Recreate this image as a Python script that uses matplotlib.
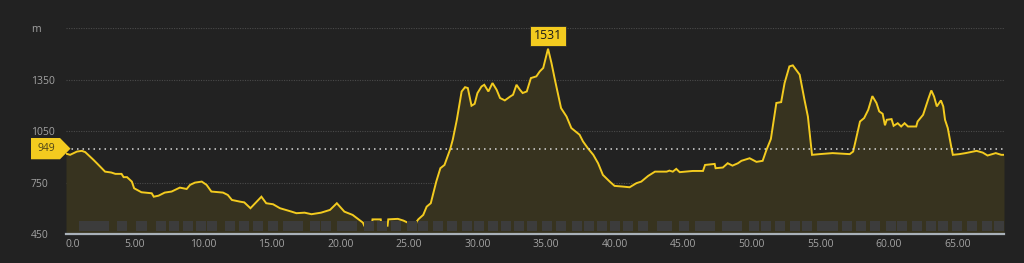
import matplotlib
matplotlib.use("Agg")
import matplotlib.pyplot as plt
from matplotlib.patches import Polygon, Rectangle
import numpy as np

plt.rcParams['font.family'] = ['Open Sans', 'DejaVu Sans']

# ---- data ----
dist_km = [0.0, 0.3, 0.8, 1.15, 1.4, 1.75, 2.0, 2.25, 2.6, 2.85, 3.3, 3.6, 4.05, 4.2, 4.45, 4.8, 4.97,
           5.5, 6.25, 6.4, 6.75, 7.2, 7.7, 8.3, 8.8, 9.05, 9.4, 9.9, 10.25, 10.6, 11.45, 11.8, 12.1,
           12.7, 13.0, 13.45, 14.25, 14.6, 15.1, 15.6, 16.45, 16.8, 17.4, 17.9, 18.6, 19.25, 19.75,
           20.3, 20.9, 21.65, 21.75, 22.3, 22.35, 22.95, 23.0, 23.45, 23.5, 24.2, 24.6, 25.0, 25.45,
           25.56, 25.7, 26.05, 26.3, 26.6, 27.0, 27.3, 27.6, 28.0, 28.2, 28.5, 28.85, 29.1, 29.3,
           29.57, 29.8, 30.0, 30.3, 30.5, 30.8, 31.1, 31.4, 31.65, 32.0, 32.4, 32.6, 32.85, 33.1,
           33.3, 33.6, 33.9, 34.3, 34.55, 34.8, 35.15, 35.4, 35.65, 36.1, 36.5, 36.85, 37.45, 37.7,
           38.05, 38.45, 38.8, 39.15, 39.65, 40.0, 40.6, 41.1, 41.6, 41.95, 42.45, 42.95, 43.8, 44.0,
           44.25, 44.5, 44.75, 45.7, 46.45, 46.6, 47.3, 47.37, 47.9, 48.25, 48.6, 49.0, 49.25, 49.85,
           50.35, 50.8, 51.07, 51.4, 51.8, 52.15, 52.4, 52.75, 53.0, 53.5, 53.85, 54.1, 54.4, 54.95,
           55.9, 57.15, 57.4, 57.9, 58.2, 58.5, 58.8, 59.1, 59.3, 59.55, 59.72, 59.85, 60.2, 60.35,
           60.65, 60.9, 61.15, 61.4, 62.0, 62.1, 62.5, 62.7, 62.9, 63.1, 63.3, 63.5, 63.8, 63.97,
           64.1, 64.3, 64.55, 64.67, 65.15, 65.6, 66.4, 66.85, 67.2, 67.8, 68.2, 68.4]
elev_m = [920, 913, 932, 936, 929, 903, 884, 864, 835, 815, 810, 802, 802, 783, 783, 757, 718,
          695, 689, 669, 675, 693, 699, 722, 714, 738, 751, 757, 738, 699, 693, 679, 650,
          640, 636, 602, 669, 631, 625, 602, 582, 573, 576, 567, 576, 592, 631,
          582, 563, 518, 500, 500, 537, 537, 500, 500, 537, 540, 530, 515, 487,
          523, 538, 563, 611, 631, 757, 835, 854, 942, 1000, 1117, 1282, 1307, 1302,
          1199, 1210, 1272, 1311, 1321, 1282, 1331, 1292, 1244, 1230, 1253, 1263, 1321, 1292,
          1273, 1282, 1360, 1370, 1399, 1419, 1531, 1448, 1351, 1185, 1136, 1069, 1030, 991,
          952, 913, 864, 796, 757, 732, 728, 724, 748, 757, 790, 815, 815, 821,
          815, 831, 812, 819, 819, 854, 860, 835, 839, 864, 850, 864, 878, 893,
          872, 878, 940, 1005, 1215, 1220, 1331, 1428, 1434, 1380, 1234, 1136, 913, 917,
          923, 917, 932, 1107, 1127, 1175, 1255, 1215, 1166, 1152, 1085, 1117, 1121, 1082,
          1097, 1078, 1097, 1078, 1078, 1107, 1146, 1195, 1243, 1288, 1253, 1195, 1230, 1195,
          1117, 1069, 961, 913, 917, 923, 936, 926, 909, 923, 913, 913]

# surface segments along the bottom strip (start km, end km)
seg_start = [0.95, 3.72, 5.1, 6.56, 7.5, 8.53, 9.48, 10.28, 11.6, 12.6, 13.6, 14.7, 15.8, 17.8,
             18.6, 19.75, 21.7, 22.7, 23.7, 24.85, 25.65, 26.75, 27.77, 28.86, 29.74, 30.76,
             31.7, 32.65, 33.6, 34.7, 35.7, 36.9, 37.75, 38.7, 39.65, 40.6, 41.7, 43.1, 44.7,
             45.85, 47.8, 48.6, 49.8, 50.7, 51.7, 52.8, 53.7, 54.8, 55.6, 56.6, 57.6, 58.6,
             59.8, 60.6, 61.7, 62.7, 63.6, 64.6, 65.7, 66.8, 67.7]
seg_end = [3.13, 4.45, 5.9, 7.3, 8.25, 9.26, 10.2, 11.0, 12.33, 13.33, 14.33, 15.43, 17.3, 18.53,
           19.3, 21.2, 22.43, 23.43, 24.43, 25.58, 26.38, 27.48, 28.5, 29.6, 30.47, 31.5,
           32.43, 33.38, 34.33, 35.43, 36.43, 37.63, 38.48, 39.43, 40.38, 41.33, 42.43, 44.2, 45.43,
           47.3, 48.53, 49.33, 50.53, 51.43, 52.43, 53.53, 54.43, 55.53, 56.33, 57.33, 58.33, 59.33,
           60.53, 61.33, 62.43, 63.43, 64.33, 65.33, 66.43, 67.53, 68.4]

avg_elev = 949
max_elev = 1531
y_ticks = [450, 750, 1050, 1350, 1650]
y_tick_labels = ['450', '750', '1050', '1350', 'm']
x_ticks = [0, 5, 10, 15, 20, 25, 30, 35, 40, 45, 50, 55, 60, 65]
x_tick_labels = ['0.0', '5.00', '10.00', '15.00', '20.00', '25.00', '30.00', '35.00',
                 '40.00', '45.00', '50.00', '55.00', '60.00', '65.00']

# ---- style ----
BG = '#222222'
YELLOW = '#f3cb1f'
FILL = '#37331f'
TXT = '#a3a3a3'

W, H = 1024, 263
fig = plt.figure(figsize=(W / 100, H / 100), dpi=100, facecolor=BG)
L, R, T, B = 66, 1004, 28.3, 234.3
ax = fig.add_axes([L / W, 1 - B / H, (R - L) / W, (B - T) / H])
ax.set_facecolor(BG)

x = np.array(dist_km)
y = np.array(elev_m)
ax.set_xlim(0, 68.4)
ax.set_ylim(450, 1650)

for gy in y_ticks[1:]:
    ax.axhline(gy, color='#4a4a4a', lw=0.8, ls=(0, (1, 1.2)), zorder=1)

ax.fill_between(x, 450, y, color=FILL, lw=0, zorder=2)
ax.plot(x, y, color=YELLOW, lw=1.4, zorder=3, solid_joinstyle='miter')

# bottom strip segments
for s, e in zip(seg_start, seg_end):
    ax.add_patch(Rectangle((s, 469), e - s, 528 - 469, facecolor='#3c3c3c', edgecolor='none', zorder=4))

# average line
ax.axhline(avg_elev, color='#d8d8d8', lw=1.1, ls=(0, (1, 2.6)), zorder=5)

# average tag
ytr = ax.get_yaxis_transform()
def fx(px):
    return (px - L) / (R - L)
tag = Polygon([(fx(31), avg_elev + 62), (fx(60), avg_elev + 62), (fx(70.5), avg_elev),
               (fx(60), avg_elev - 62), (fx(31), avg_elev - 62)], closed=True,
              facecolor=YELLOW, edgecolor='none', transform=ytr, clip_on=False, zorder=6)
ax.add_patch(tag)
ax.text(fx(46), avg_elev, str(avg_elev), transform=ytr, ha='center', va='center',
        fontsize=7.5, color='#4a4118', zorder=7, clip_on=False)

# max label
imax = int(np.argmax(y))
ax.annotate(str(max_elev), xy=(x[imax], y[imax]), xytext=(0, 4.5), textcoords='offset points',
            ha='center', va='bottom', fontsize=8.8, color='#1a1a1a',
            bbox=dict(boxstyle='square,pad=0.28', facecolor=YELLOW, edgecolor='#2a2a2a', lw=0.6),
            zorder=8, annotation_clip=False)

# axes
for sp in ['top', 'right', 'left']:
    ax.spines[sp].set_visible(False)
ax.spines['bottom'].set_color('#a9b1b9')
ax.spines['bottom'].set_linewidth(1.6)
ax.spines['bottom'].set_zorder(9)

ax.set_yticks(y_ticks)
ax.set_yticklabels(y_tick_labels)
ax.tick_params(axis='y', length=0, pad=25.2, labelsize=7.5, labelcolor=TXT)
for lab in ax.get_yticklabels():
    lab.set_horizontalalignment('left')

ax.set_xticks(x_ticks)
ax.set_xticklabels(x_tick_labels)
ax.tick_params(axis='x', length=0, pad=3.5, labelsize=7.5, labelcolor=TXT)
ax.get_xticklabels()[0].set_horizontalalignment('left')

fig.savefig('out.png', dpi=100, facecolor=BG)
